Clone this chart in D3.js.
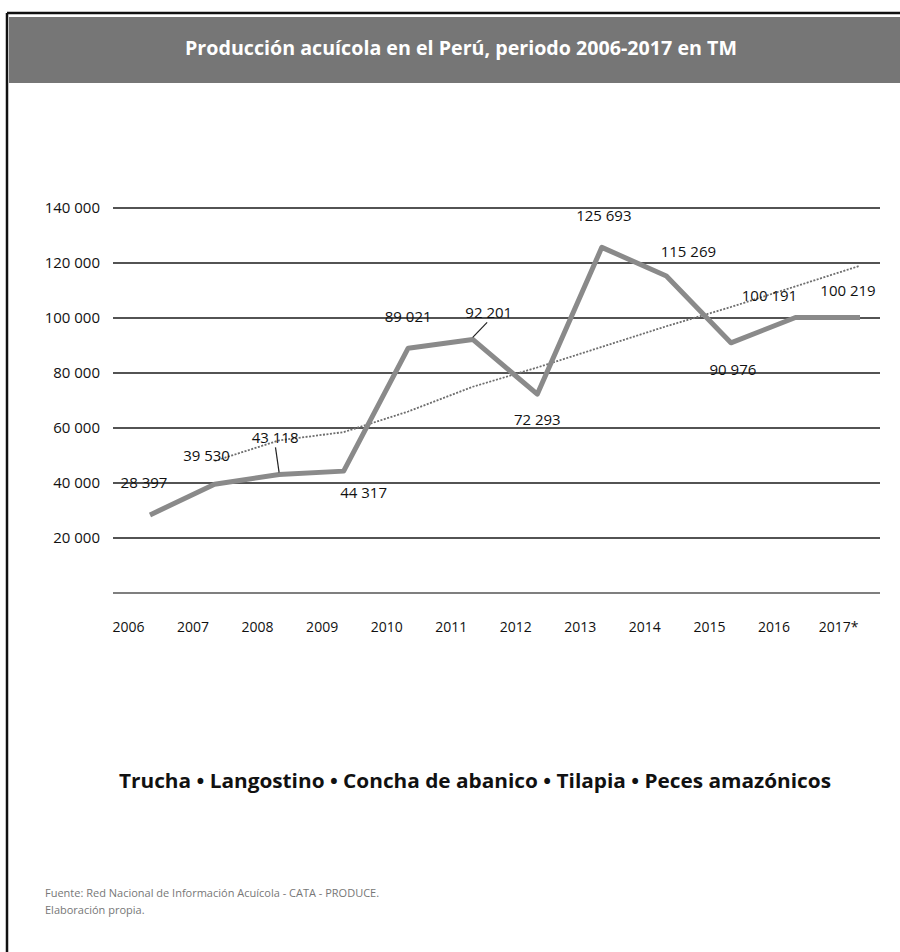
<!DOCTYPE html>
<html>
<head>
<meta charset="utf-8">
<script src="https://cdn.jsdelivr.net/npm/d3@7"></script>
<style>
  body { margin: 0; background: #fff; }
  text { font-family: "Open Sans", "DejaVu Sans", sans-serif; }
</style>
</head>
<body>
<div id="chart"></div>
<script>
// data
const years = ["2006", "2007", "2008", "2009", "2010", "2011", "2012", "2013", "2014", "2015", "2016", "2017*"];
const production = [28397, 39530, 43118, 44317, 89021, 92201, 72293, 125693, 115269, 90976, 100191, 100219];
const trendYears = ["2007", "2008", "2009", "2010", "2011", "2012", "2013", "2014", "2015", "2016", "2017*"];
const trendValues = [48000, 55500, 58500, 66000, 75000, 82000, 89500, 97000, 104000, 111500, 119000];
const yTicks = [20000, 40000, 60000, 80000, 100000, 120000, 140000];
const legendItems = ["Trucha", "Langostino", "Concha de abanico", "Tilapia", "Peces amazónicos"];

// where each value label sits relative to its point (layout only)
const labelOffsets = [[-6, -32], [-8, -29], [-4, -37], [20, 22], [0, -31], [16, -27],
                      [0, 26], [2, -32], [22, -24], [2, 27], [-26, -22], [-12, -27]];
const connectors = {2: true, 5: true};

const width = 900, height = 952;

const svg = d3.select("#chart")
    .append("svg")
    .attr("width", width)
    .attr("height", height);

// frame + title band
svg.append("line").attr("x1", 7).attr("x2", 900).attr("y1", 13).attr("y2", 13)
    .attr("stroke", "#111").attr("stroke-width", 2.5);
svg.append("line").attr("x1", 7).attr("x2", 7).attr("y1", 13).attr("y2", 952)
    .attr("stroke", "#111").attr("stroke-width", 2.5);
svg.append("rect").attr("x", 9).attr("y", 17).attr("width", 891).attr("height", 66)
    .attr("fill", "#767676");
svg.append("text")
    .attr("x", 461).attr("y", 55)
    .attr("text-anchor", "middle")
    .attr("fill", "#fff")
    .attr("font-size", 19)
    .attr("font-weight", "bold")
    .attr("textLength", 552)
    .attr("lengthAdjust", "spacingAndGlyphs")
    .text("Producción acuícola en el Perú, periodo 2006-2017 en TM");

const fmt = d3.formatLocale({decimal: ",", thousands: " ", grouping: [3], currency: ["", ""]}).format(",");

const x = d3.scalePoint().domain(years).range([150, 860]);
const y = d3.scaleLinear().domain([0, 140000]).range([593, 208]);

// gridlines (incl. zero line)
const g = svg.append("g");
g.selectAll("line.grid")
    .data([0].concat(yTicks))
    .join("line")
    .attr("class", "grid")
    .attr("x1", 113).attr("x2", 880)
    .attr("y1", d => y(d)).attr("y2", d => y(d))
    .attr("stroke", d => d === 0 ? "#555" : "#1a1a1a")
    .attr("stroke-width", 1.5);

// y axis labels
const yAxis = svg.append("g")
    .attr("transform", "translate(100,0)")
    .call(d3.axisLeft(y).tickValues(yTicks).tickFormat(fmt).tickSize(0).tickPadding(0));
yAxis.select(".domain").remove();
yAxis.selectAll("text").attr("font-size", 15).attr("fill", "#111")
    .style("font-family", "'Open Sans', sans-serif");

// x axis labels
const xAxis = svg.append("g")
    .attr("transform", "translate(-22,622)")
    .call(d3.axisBottom(x).tickSize(0).tickPadding(0));
xAxis.select(".domain").remove();
xAxis.selectAll("text").attr("font-size", 14).attr("fill", "#111")
    .style("font-family", "'Open Sans', sans-serif");

// thin trend line
svg.append("path")
    .datum(trendValues)
    .attr("fill", "none")
    .attr("stroke", "#6e6e6e")
    .attr("stroke-width", 1.8)
    .attr("stroke-dasharray", "2,1.5")
    .attr("d", d3.line().x((d, i) => x(trendYears[i])).y(d => y(d)));

// production line
svg.append("path")
    .datum(production)
    .attr("fill", "none")
    .attr("stroke", "#8a8a8a")
    .attr("stroke-width", 5)
    .attr("stroke-linejoin", "round")
    .attr("d", d3.line().x((d, i) => x(years[i])).y(d => y(d)));

// label connectors
svg.selectAll("line.conn")
    .data(production.map((d, i) => i).filter(i => connectors[i]))
    .join("line")
    .attr("class", "conn")
    .attr("x1", i => x(years[i]))
    .attr("y1", i => y(production[i]) - 2)
    .attr("x2", i => x(years[i]) + labelOffsets[i][0] * 0.9)
    .attr("y2", i => y(production[i]) + labelOffsets[i][1] + 10)
    .attr("stroke", "#222").attr("stroke-width", 1.2);

// value labels
svg.selectAll("text.val")
    .data(production)
    .join("text")
    .attr("class", "val")
    .attr("x", (d, i) => x(years[i]) + labelOffsets[i][0])
    .attr("y", (d, i) => y(d) + labelOffsets[i][1])
    .attr("dy", "0.35em")
    .attr("text-anchor", "middle")
    .attr("font-size", 15)
    .attr("fill", "#111")
    .text(d => fmt(d));

// legend line
svg.append("text")
    .attr("x", 475).attr("y", 788)
    .attr("text-anchor", "middle")
    .attr("font-size", 19)
    .attr("font-weight", "bold")
    .attr("fill", "#111")
    .attr("textLength", 712)
    .attr("lengthAdjust", "spacingAndGlyphs")
    .text(legendItems.join(" • "));

// source
const src = svg.append("g").attr("fill", "#777").attr("font-size", 11);
src.append("text").attr("x", 45).attr("y", 897)
    .text("Fuente: Red Nacional de Información Acuícola - CATA - PRODUCE.");
src.append("text").attr("x", 45).attr("y", 914)
    .text("Elaboración propia.");
</script>
</body>
</html>
